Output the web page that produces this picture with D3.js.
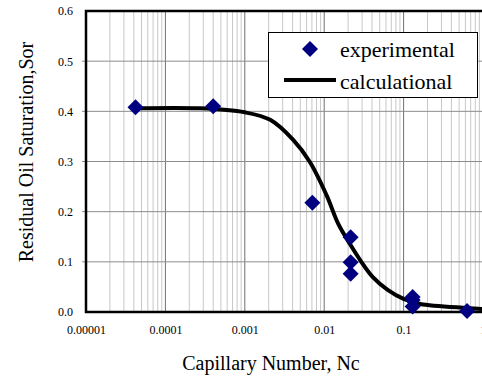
<!DOCTYPE html>
<html>
<head>
<meta charset="utf-8">
<script src="https://cdn.jsdelivr.net/npm/d3@7"></script>
<style>
  body { margin: 0; background: #fff; }
  svg text { font-family: "Liberation Serif", "Times New Roman", serif; }
</style>
</head>
<body>
<div id="chart"></div>
<script>
// measured points
var expNc  = [0.000042, 0.0004, 0.0071, 0.0215, 0.0215, 0.0215, 0.13, 0.13, 0.13, 0.63];
var expSor = [0.408, 0.41, 0.218, 0.149, 0.099, 0.076, 0.030, 0.024, 0.011, 0.002];

// model curve
var calcNc  = [0.0000417, 0.000275, 0.001, 0.00209, 0.00407, 0.0066, 0.0107, 0.0151, 0.0214, 0.0288, 0.0407, 0.063, 0.1, 0.162, 0.63, 1];
var calcSor = [0.406, 0.406, 0.398, 0.383, 0.343, 0.299, 0.233, 0.175, 0.134, 0.102, 0.070, 0.044, 0.026, 0.016, 0.008, 0.006];

var xTicks = [0.00001, 0.0001, 0.001, 0.01, 0.1, 1];
var xTickLabels = ["0.00001", "0.0001", "0.001", "0.01", "0.1", "1"];
var yTicks = [0, 0.1, 0.2, 0.3, 0.4, 0.5, 0.6];

var svgWidth = 482;
var svgHeight = 379;

var margin = { top: 11, right: -1, bottom: 67, left: 86 };
var width = svgWidth - margin.left - margin.right;
var height = svgHeight - margin.top - margin.bottom;

var svg = d3.select("#chart")
  .append("svg")
  .attr("width", svgWidth)
  .attr("height", svgHeight)
  .attr("font-family", "'Liberation Serif', 'Times New Roman', serif");

var chartGroup = svg.append("g")
  .attr("transform", `translate(${margin.left}, ${margin.top})`);

var xScale = d3.scaleLog()
  .domain([0.00001, 1])
  .range([0, width]);

var yScale = d3.scaleLinear()
  .domain([0, 0.6])
  .range([height, 0]);

// minor vertical grid
var minor = [];
for (var d = 0; d < 5; d++) {
  for (var k = 2; k <= 9; k++) minor.push(xTicks[d] * k);
}
chartGroup.selectAll(".minor")
  .data(minor)
  .enter()
  .append("line")
  .attr("x1", d => xScale(d))
  .attr("x2", d => xScale(d))
  .attr("y1", 0)
  .attr("y2", height)
  .attr("stroke", "#c8c8c8")
  .attr("stroke-width", 1);

// major vertical grid
chartGroup.selectAll(".major")
  .data(xTicks.slice(1))
  .enter()
  .append("line")
  .attr("x1", d => xScale(d))
  .attr("x2", d => xScale(d))
  .attr("y1", 0)
  .attr("y2", height)
  .attr("stroke", "#707070")
  .attr("stroke-width", 1);

// horizontal grid
chartGroup.selectAll(".hgrid")
  .data(yTicks.slice(1, 6))
  .enter()
  .append("line")
  .attr("x1", -4)
  .attr("x2", width)
  .attr("y1", d => yScale(d))
  .attr("y2", d => yScale(d))
  .attr("stroke", "#8c8c8c")
  .attr("stroke-width", 1);

// axes frame
chartGroup.append("path")
  .attr("d", `M${width},0 H0 V${height} H${width}`)
  .attr("fill", "none")
  .attr("stroke", "#000")
  .attr("stroke-width", 2.5);

// y tick labels
var leftAxis = d3.axisLeft(yScale)
  .tickValues(yTicks)
  .tickFormat(d3.format(".1f"))
  .tickSize(0)
  .tickPadding(13);
var yAxisG = chartGroup.append("g").call(leftAxis)
  .attr("font-family", "'Liberation Serif', serif")
  .attr("font-size", 12);
yAxisG.select(".domain").remove();
yAxisG.selectAll("text").attr("fill", "#000");

// x tick labels
var bottomAxis = d3.axisBottom(xScale)
  .tickValues(xTicks)
  .tickFormat((d, i) => xTickLabels[i])
  .tickSize(0)
  .tickPadding(13);
var xAxisG = chartGroup.append("g")
  .attr("transform", `translate(0, ${height})`)
  .call(bottomAxis)
  .attr("font-family", "'Liberation Serif', serif")
  .attr("font-size", 12);
xAxisG.select(".domain").remove();
xAxisG.selectAll("text").attr("fill", "#000");

// curve
var line = d3.line()
  .x(d => xScale(d[0]))
  .y(d => yScale(d[1]))
  .curve(d3.curveCatmullRom.alpha(0.5));

chartGroup.append("path")
  .datum(calcNc.map((v, i) => [v, calcSor[i]]))
  .attr("d", line)
  .attr("fill", "none")
  .attr("stroke", "#000")
  .attr("stroke-width", 4);

// points
var diamond = d3.symbol().type(d3.symbolSquare).size(128);
chartGroup.selectAll(".pt")
  .data(expNc.map((v, i) => [v, expSor[i]]))
  .enter()
  .append("path")
  .attr("d", diamond)
  .attr("transform", d => `translate(${xScale(d[0])}, ${yScale(d[1])}) rotate(45)`)
  .attr("fill", "#000080");

// legend
var legend = svg.append("g");
legend.append("rect")
  .attr("x", 268.5)
  .attr("y", 32.5)
  .attr("width", 209)
  .attr("height", 65)
  .attr("fill", "#fff")
  .attr("stroke", "#000")
  .attr("stroke-width", 1);
legend.append("path")
  .attr("d", diamond)
  .attr("transform", "translate(310, 49) rotate(45)")
  .attr("fill", "#000080");
legend.append("line")
  .attr("x1", 284)
  .attr("x2", 336)
  .attr("y1", 80)
  .attr("y2", 80)
  .attr("stroke", "#000")
  .attr("stroke-width", 4);
legend.append("text")
  .attr("x", 340)
  .attr("y", 57)
  .attr("font-size", 22)
  .text("experimental");
legend.append("text")
  .attr("x", 340)
  .attr("y", 89)
  .attr("font-size", 22)
  .text("calculational");

// axis titles
svg.append("text")
  .attr("transform", "translate(33, 152) rotate(-90)")
  .attr("text-anchor", "middle")
  .attr("font-size", 20)
  .text("Residual Oil Saturation,Sor");

svg.append("text")
  .attr("x", 271)
  .attr("y", 370)
  .attr("text-anchor", "middle")
  .attr("font-size", 20)
  .text("Capillary Number, Nc");
</script>
</body>
</html>
